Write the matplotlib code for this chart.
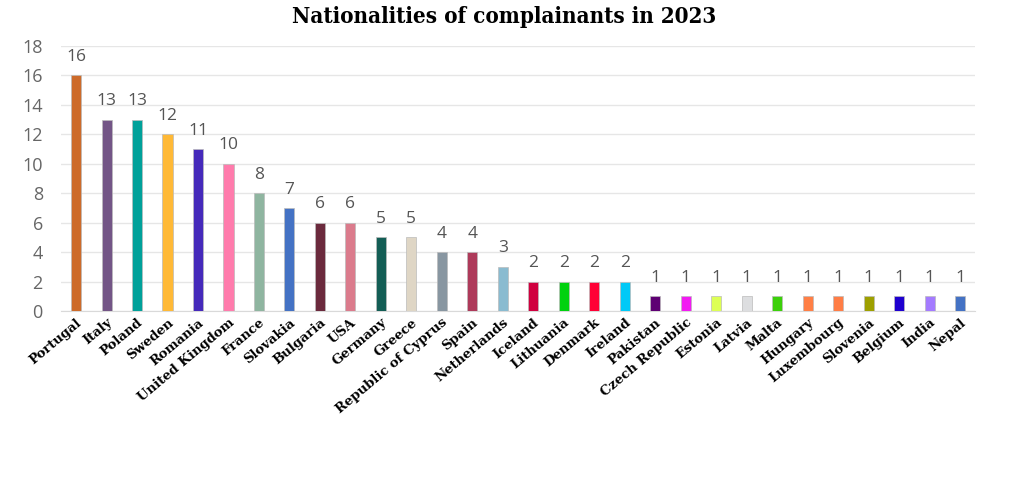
import matplotlib.pyplot as plt

countries = ["Portugal", "Italy", "Poland", "Sweden", "Romania", "United Kingdom",
             "France", "Slovakia", "Bulgaria", "USA", "Germany", "Greece",
             "Republic of Cyprus", "Spain", "Netherlands", "Iceland", "Lithuania",
             "Denmark", "Ireland", "Pakistan", "Czech Republic", "Estonia", "Latvia",
             "Malta", "Hungary", "Luxembourg", "Slovenia", "Belgium", "India", "Nepal"]
complaints = [16, 13, 13, 12, 11, 10, 8, 7, 6, 6, 5, 5, 4, 4, 3, 2, 2, 2, 2,
              1, 1, 1, 1, 1, 1, 1, 1, 1, 1, 1]
colors = ["#CD6B2A", "#735586", "#00A19A", "#FFB936", "#4529BB", "#FF7BAC",
          "#8FB5A0", "#4472C4", "#6B2A3D", "#DB7B8C", "#135E55", "#DFD6C5",
          "#8896A1", "#AE3A5A", "#8ABBD0", "#D0003F", "#00D20F", "#FF0035",
          "#00C9F7", "#5E0073", "#F21BF2", "#DDFF55", "#DDDEE0", "#3CD00A",
          "#FF7F45", "#FF7D45", "#9EA000", "#1E00CF", "#A47BFF", "#4472C4"]

fig = plt.figure(figsize=(10.24, 4.83), dpi=100)
ax = fig.add_axes([0.0594, 0.356, 0.893, 0.549])

x = range(len(countries))
ax.bar(x, complaints, width=0.33, color=colors, edgecolor="#bbbbbb",
       linewidth=0.5, zorder=3)

# value labels above each bar
for xi, v in zip(x, complaints):
    ax.text(xi, v + 1.25, str(v), ha="center", va="center", fontsize=12.5,
            color="#555555", family="Open Sans")

ax.set_xlim(-0.5, len(countries) - 0.5)
ax.set_ylim(0, 18)
ax.set_yticks(range(0, 19, 2))
ax.grid(axis="y", color="#e6e6e6", linewidth=1, zorder=0)
for s in ["top", "right", "left"]:
    ax.spines[s].set_visible(False)
ax.spines["bottom"].set_color("#d9d9d9")
ax.tick_params(length=0)
ax.tick_params(axis="y", labelsize=13, labelcolor="#666666", pad=13)
for lab in ax.get_yticklabels():
    lab.set_family("Open Sans")

ax.set_xticks(list(x))
ax.set_xticklabels(countries, rotation=40, ha="right", rotation_mode="anchor",
                   fontsize=9.5, fontweight="bold", family="DejaVu Serif")

fig.suptitle("Nationalities of complainants in 2023", x=0.492, y=0.988,
             fontsize=16, fontweight="bold", fontstretch="condensed",
             family="DejaVu Serif")

fig.savefig("out.png", dpi=100)
